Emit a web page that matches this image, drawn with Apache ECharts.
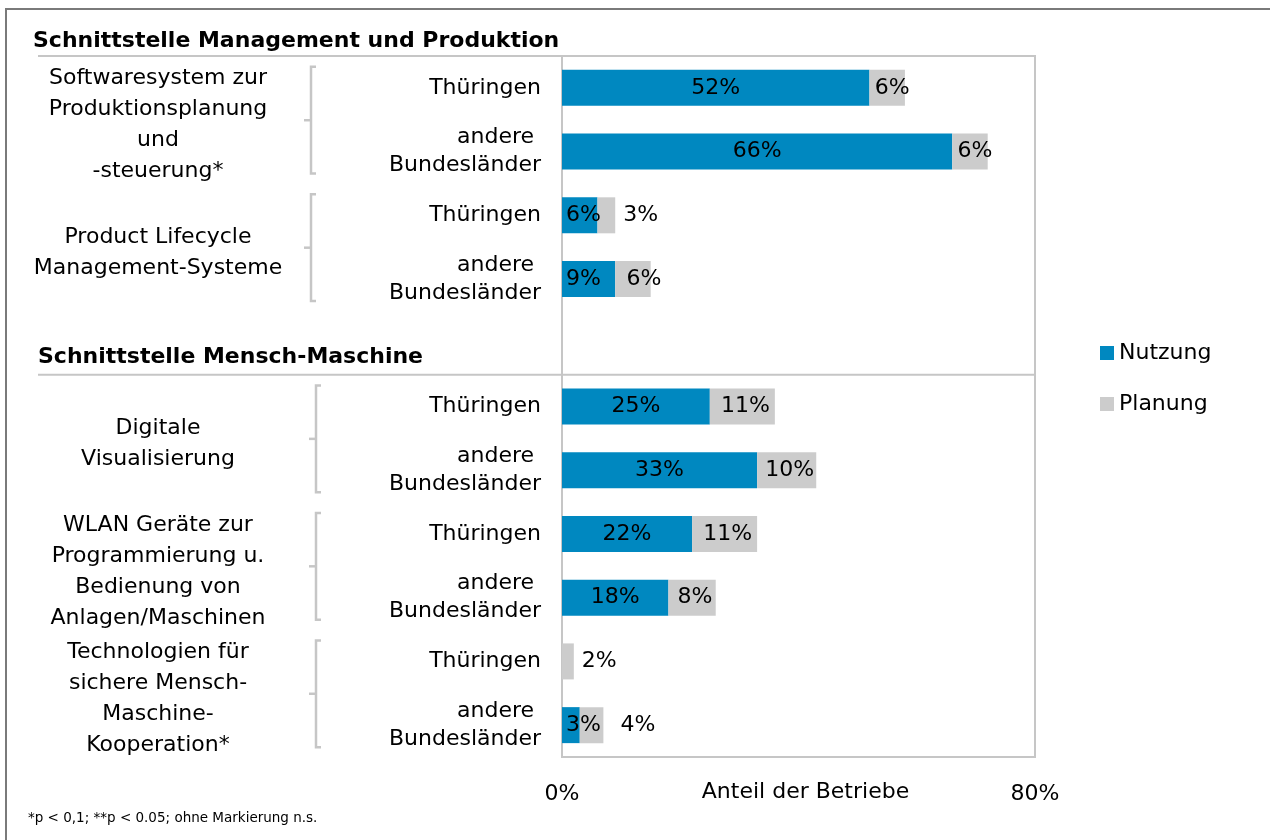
<!DOCTYPE html>
<html>
<head>
<meta charset="utf-8">
<script src="https://cdn.jsdelivr.net/npm/echarts@6/dist/echarts.min.js"></script>
<style>
  html, body { margin: 0; padding: 0; background: #fff; }
  #chart { width: 1270px; height: 840px; }
</style>
</head>
<body>
<div id="chart"></div>
<script>
// Rows of the bar chart (top to bottom); the empty row leaves room for the second section title
const categories = [
  'Thüringen', 'andere \nBundesländer',
  'Thüringen', 'andere \nBundesländer',
  '',
  'Thüringen', 'andere \nBundesländer',
  'Thüringen', 'andere \nBundesländer',
  'Thüringen', 'andere \nBundesländer'
];
const nutzung = [52, 66, 6, 9, null, 25, 33, 22, 18, 0, 3];
const planung = [6, 6, 3, 6, null, 11, 10, 11, 8, 2, 4];

// Technology groups, each spanning two rows (first and last row index)
const groupNames = [
  'Softwaresystem zur\nProduktionsplanung\nund\n-steuerung*',
  'Product Lifecycle\nManagement-Systeme',
  'Digitale\nVisualisierung',
  'WLAN Geräte zur\nProgrammierung u.\nBedienung von\nAnlagen/Maschinen',
  'Technologien für\nsichere Mensch-\nMaschine-\nKooperation*'
];
const groupRows = [[0, 1], [2, 3], [5, 6], [7, 8], [9, 10]];

const sectionTitles = ['Schnittstelle Management und Produktion', 'Schnittstelle Mensch-Maschine'];
const xMin = 0, xMax = 80;
const axisTitle = 'Anteil der Betriebe';
const footnote = '*p < 0,1; **p < 0.05; ohne Markierung n.s.';

// Label placement per row: narrow segments get their label at the bar start or beside the bar
const nutzungLabelPlacement = ['inside', 'inside', 'insideLeft', 'insideLeft', null,
  'inside', 'inside', 'inside', 'inside', 'inside', 'insideLeft'];
const planungLabelPlacement = ['inside', 'inside', 'right', 'inside', null,
  'inside', 'inside', 'inside', 'inside', 'right', 'right'];
const planungLabelShift = [5, 5, 0, 11, 0, 3, 3, 3, 3, 0, 9];

const BLUE = '#0088c0';
const GREY = '#cccccc';
const FRAME = '#c6c6c6';
const FONT = '"DejaVu Sans", "Liberation Sans", Arial, sans-serif';

const chart = echarts.init(document.getElementById('chart'), null, { renderer: 'canvas' });

const nutzungData = nutzung.map((v, i) => ({
  value: v,
  label: {
    show: v !== null && v > 0,
    position: nutzungLabelPlacement[i] || 'inside',
    distance: 4
  }
}));
const planungData = planung.map((v, i) => ({
  value: v,
  label: {
    show: v !== null,
    position: planungLabelPlacement[i] || 'inside',
    distance: 8,
    offset: [planungLabelShift[i], 0]
  }
}));

const option = {
  animation: false,
  backgroundColor: '#ffffff',
  textStyle: { fontFamily: FONT, color: '#000' },
  grid: {
    left: 562, right: 235, top: 56, bottom: 83,
    show: true, borderColor: FRAME, borderWidth: 2, containLabel: false
  },
  legend: {
    orient: 'vertical',
    left: 1095, top: 337,
    icon: 'rect', itemWidth: 14, itemHeight: 14, itemGap: 29,
    textStyle: { fontSize: 22, color: '#000', fontFamily: FONT },
    data: ['Nutzung', 'Planung']
  },
  xAxis: {
    type: 'value',
    min: xMin, max: xMax, interval: xMax - xMin,
    axisLine: { show: false }, axisTick: { show: false }, splitLine: { show: false },
    axisLabel: { formatter: '{value}%', fontSize: 22, color: '#000', margin: 26, fontFamily: FONT }
  },
  yAxis: {
    type: 'category', inverse: true, data: categories,
    axisLine: { show: false }, axisTick: { show: false }, splitLine: { show: false },
    axisLabel: { fontSize: 22, color: '#000', margin: 21, lineHeight: 28, fontFamily: FONT }
  },
  series: [
    {
      name: 'Nutzung', type: 'bar', stack: 'total', barWidth: 36,
      itemStyle: { color: BLUE },
      label: { show: true, position: 'inside', formatter: '{c}%', fontSize: 22, color: '#000', fontFamily: FONT },
      data: nutzungData
    },
    {
      name: 'Planung', type: 'bar', stack: 'total', barWidth: 36,
      itemStyle: { color: GREY },
      label: { show: true, formatter: '{c}%', fontSize: 22, color: '#000', fontFamily: FONT },
      data: planungData
    }
  ]
};

chart.setOption(option);

// Annotation layer: section titles, rules, group brackets and group names,
// positioned from the axes so they follow the rows
function rowY(i) { return chart.convertToPixel({ yAxisIndex: 0 }, i); }
function xPix(v) { return chart.convertToPixel({ xAxisIndex: 0 }, v); }

const gridTop = rowY(0) - (rowY(1) - rowY(0)) / 2;
const gridBottom = rowY(10) + (rowY(1) - rowY(0)) / 2;
const plotLeft = xPix(xMin);
const plotRight = xPix(xMax);
const sepY = (rowY(4) + rowY(5)) / 2;

const elements = [];

// outer frame
elements.push({
  type: 'rect', silent: true,
  shape: { x: 6, y: 9, width: 1400, height: 1000 },
  style: { fill: null, stroke: '#7a7a7a', lineWidth: 2 }
});

// section titles
elements.push({
  type: 'text', x: 33, y: 41,
  style: { text: sectionTitles[0], font: 'bold 22px ' + FONT, fill: '#000', verticalAlign: 'middle' }
});
elements.push({
  type: 'text', x: 38, y: sepY - 17,
  style: { text: sectionTitles[1], font: 'bold 22px ' + FONT, fill: '#000', verticalAlign: 'middle' }
});

// rules under the section titles
elements.push({
  type: 'line', silent: true,
  shape: { x1: 38, y1: gridTop, x2: plotLeft, y2: gridTop },
  style: { stroke: FRAME, lineWidth: 2 }
});
elements.push({
  type: 'line', silent: true,
  shape: { x1: 38, y1: sepY, x2: plotRight, y2: sepY },
  style: { stroke: FRAME, lineWidth: 2 }
});

// group brackets and names
groupRows.forEach((rows, g) => {
  const top = rowY(rows[0]) - 21;
  const bottom = rowY(rows[1]) + 22;
  const mid = (top + bottom) / 2;
  const bx = g < 2 ? 311 : 316;
  elements.push({
    type: 'polyline', silent: true,
    shape: { points: [[bx + 5, top], [bx, top], [bx, bottom], [bx + 5, bottom]] },
    style: { stroke: FRAME, lineWidth: 2.5, fill: null }
  });
  elements.push({
    type: 'line', silent: true,
    shape: { x1: bx - 7, y1: mid, x2: bx, y2: mid },
    style: { stroke: FRAME, lineWidth: 2.5 }
  });
  elements.push({
    type: 'text', x: 158, y: mid + 5,
    style: {
      text: groupNames[g], font: '22px ' + FONT, fill: '#000',
      align: 'center', verticalAlign: 'middle', lineHeight: 31
    }
  });
});

// x-axis title, on the tick-label line between 0% and 80%
elements.push({
  type: 'text', x: (plotLeft + plotRight) / 2 + 7, y: gridBottom + 35,
  style: { text: axisTitle, font: '22px ' + FONT, fill: '#000', align: 'center', verticalAlign: 'middle' }
});

// footnote
elements.push({
  type: 'text', x: 28, y: 818,
  style: { text: footnote, font: '13.5px ' + FONT, fill: '#000', verticalAlign: 'middle' }
});

chart.setOption({ graphic: { elements: elements } });
</script>
</body>
</html>
